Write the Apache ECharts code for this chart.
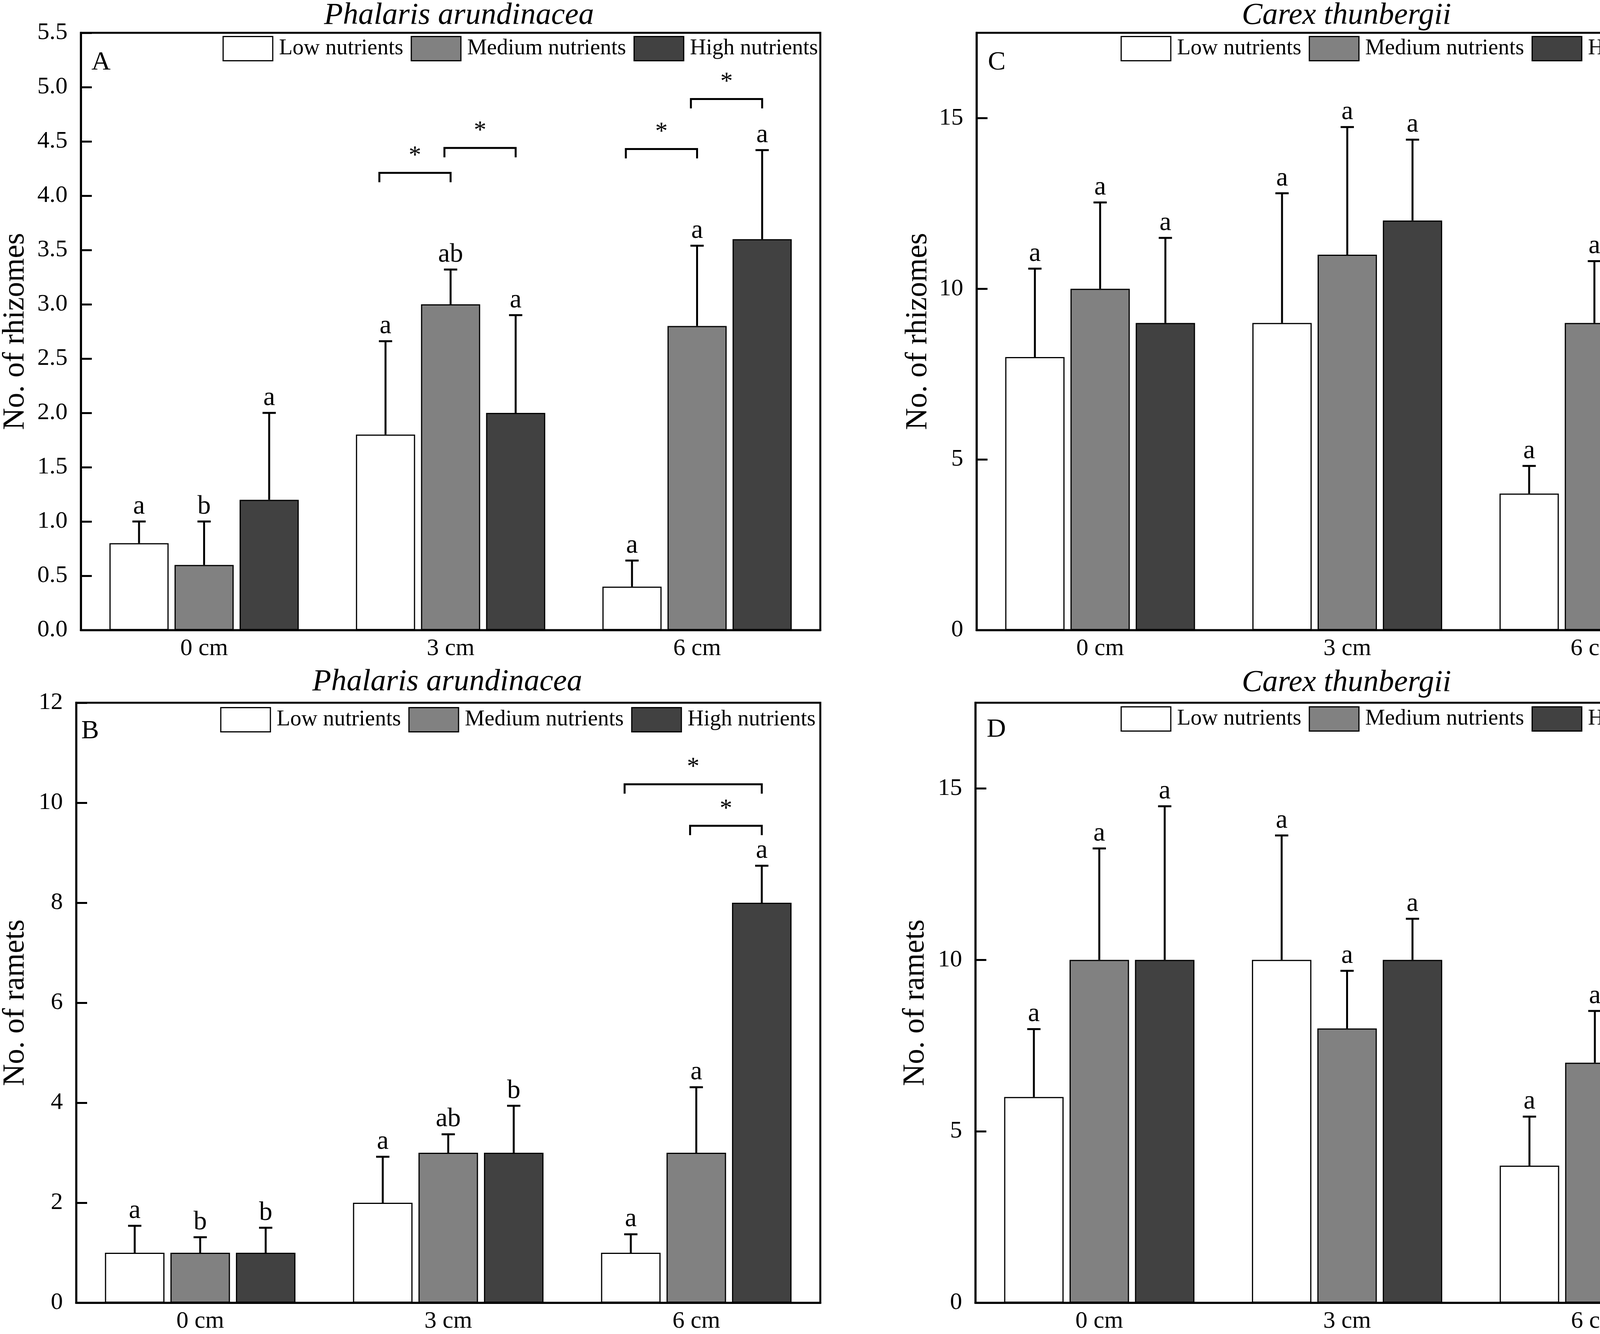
<!DOCTYPE html>
<html>
<head>
<meta charset="utf-8">
<script src="https://cdn.jsdelivr.net/npm/echarts@6/dist/echarts.min.js"></script>
<style>
  html, body { margin: 0; padding: 0; background: #fff; }
  #main { width: 4409px; height: 3415px; }
</style>
</head>
<body>
<div id="main"></div>
<script>
// category labels and groups
var depths = ['0 cm', '3 cm', '6 cm'];
var nutrients = ['Low nutrients', 'Medium nutrients', 'High nutrients'];

// rows: low / medium / high nutrients, columns: 0 / 3 / 6 cm
// A - Phalaris, rhizomes
var rhizPhalMean = [[0.8, 1.8, 0.4], [0.6, 3.0, 2.8], [1.2, 2.0, 3.6]];
var rhizPhalSE = [[0.2, 0.86, 0.24], [0.4, 0.32, 0.74], [0.8, 0.9, 0.82]];
var rhizPhalLetters = [['a', 'a', 'a'], ['b', 'ab', 'a'], ['a', 'a', 'a']];
// [depth, from nutrient, to nutrient, height]
var rhizPhalBrackets = [[1, 0, 1, 4.21], [1, 1, 2, 4.44], [2, 0, 1, 4.43], [2, 1, 2, 4.89]];

// B - Phalaris, ramets
var rametPhalMean = [[1, 2, 1], [1, 3, 3], [1, 3, 8]];
var rametPhalSE = [[0.54, 0.92, 0.37], [0.31, 0.37, 1.31], [0.5, 0.94, 0.74]];
var rametPhalLetters = [['a', 'a', 'a'], ['b', 'ab', 'a'], ['b', 'b', 'a']];
var rametPhalBrackets = [[2, 0, 2, 10.37], [2, 1, 2, 9.54]];

// C - Carex, rhizomes
var rhizCarexMean = [[8, 9, 4], [10, 11, 9], [9, 12, 11]];
var rhizCarexSE = [[2.59, 3.8, 0.81], [2.53, 3.74, 1.81], [2.49, 2.37, 3.45]];
var rhizCarexLetters = [['a', 'a', 'a'], ['a', 'a', 'a'], ['a', 'a', 'a']];

// D - Carex, ramets
var rametCarexMean = [[6, 10, 4], [10, 8, 7], [10, 10, 9]];
var rametCarexSE = [[1.98, 3.63, 1.43], [3.25, 1.68, 1.51], [4.48, 1.2, 2.17]];
var rametCarexLetters = [['a', 'a', 'a'], ['a', 'a', 'a'], ['a', 'a', 'a']];

var FONT = '"Liberation Serif", "Times New Roman", serif';
var fills = ['#ffffff', '#818181', '#414141'];
var SHIFT = 0.264; // bar centre spacing in band units

var panels = [
    { mean: rhizPhalMean, se: rhizPhalSE, letters: rhizPhalLetters, brackets: rhizPhalBrackets,
      grid: { left: 206, top: 84, width: 1894, height: 1529 }, max: 5.5, interval: 0.5, dec: 1,
      yName: 'No. of rhizomes', nameGap: 128, title: 'Phalaris arundinacea', titleX: 1175, titleY: 40,
      tag: 'A', tagX: 234, tagY: 160, legendRight: 4409 - 2094, legendTop: 92 },
    { mean: rametPhalMean, se: rametPhalSE, letters: rametPhalLetters, brackets: rametPhalBrackets,
      grid: { left: 194, top: 1799, width: 1906, height: 1536 }, max: 12, interval: 2, dec: 0,
      yName: 'No. of ramets', nameGap: 116, title: 'Phalaris arundinacea', titleX: 1145, titleY: 1746,
      tag: 'B', tagX: 208, tagY: 1872, legendRight: 4409 - 2088, legendTop: 1810 },
    { mean: rhizCarexMean, se: rhizCarexSE, letters: rhizCarexLetters, brackets: [],
      grid: { left: 2500, top: 84, width: 1898, height: 1529 }, max: 17.5, interval: 5, dec: 0,
      yName: 'No. of rhizomes', nameGap: 110, title: 'Carex thunbergii', titleX: 3447, titleY: 40,
      tag: 'C', tagX: 2529, tagY: 160, legendRight: 4409 - 4393, legendTop: 92 },
    { mean: rametCarexMean, se: rametCarexSE, letters: rametCarexLetters, brackets: [],
      grid: { left: 2497, top: 1799, width: 1903, height: 1536 }, max: 17.5, interval: 5, dec: 0,
      yName: 'No. of ramets', nameGap: 114, title: 'Carex thunbergii', titleX: 3447, titleY: 1748,
      tag: 'D', tagX: 2526, tagY: 1868, legendRight: 4409 - 4393, legendTop: 1808 }
];

var grids = [], xAxes = [], yAxes = [], series = [], legends = [], graphics = [];

function errRender(letters) {
    return function (params, api) {
        var d = api.value(0), n = api.value(1);
        var band = api.size([1, 0])[0];
        var top = api.coord([d, api.value(3)]);
        var base = api.coord([d, api.value(2)]);
        var x = top[0] + (n - 1) * band * SHIFT;
        return {
            type: 'group',
            children: [
                { type: 'line', shape: { x1: x, y1: base[1], x2: x, y2: top[1] }, style: { stroke: '#000', lineWidth: 5 } },
                { type: 'line', shape: { x1: x - 17, y1: top[1], x2: x + 17, y2: top[1] }, style: { stroke: '#000', lineWidth: 5 } },
                { type: 'text', x: x, y: top[1] - 4,
                  style: { text: letters[n][d], font: '68px ' + FONT, fill: '#000', align: 'center', verticalAlign: 'bottom' } }
            ]
        };
    };
}

function bracketRender(params, api) {
    var d = api.value(0), a = api.value(1), b = api.value(2);
    var band = api.size([1, 0])[0];
    var p = api.coord([d, api.value(3)]);
    var x1 = p[0] + (a - 1) * band * SHIFT - band * 0.025;
    var x2 = p[0] + (b - 1) * band * SHIFT;
    var y = p[1];
    return {
        type: 'group',
        children: [
            { type: 'polyline', shape: { points: [[x1, y + 24], [x1, y], [x2, y], [x2, y + 24]] },
              style: { stroke: '#000', lineWidth: 5, fill: null } },
            { type: 'text', x: (x1 + x2) / 2, y: y - 42,
              style: { text: '*', font: '64px ' + FONT, fill: '#000', align: 'center', verticalAlign: 'middle' } }
        ]
    };
}

panels.forEach(function (p, i) {
    grids.push({ left: p.grid.left, top: p.grid.top, width: p.grid.width, height: p.grid.height,
                 show: true, borderColor: '#000', borderWidth: 5 });
    xAxes.push({
        type: 'category', gridIndex: i, data: depths,
        axisLine: { lineStyle: { color: '#000', width: 5 } },
        axisTick: { show: false },
        axisLabel: { color: '#000', fontFamily: FONT, fontSize: 62, margin: 17 }
    });
    yAxes.push({
        type: 'value', gridIndex: i, min: 0, max: p.max, interval: p.interval,
        name: p.yName, nameLocation: 'middle', nameGap: p.nameGap,
        nameTextStyle: { color: '#000', fontFamily: FONT, fontSize: 78 },
        axisLine: { show: true, lineStyle: { color: '#000', width: 5 } },
        axisTick: { show: true, inside: true, length: 28, lineStyle: { color: '#000', width: 5 } },
        splitLine: { show: false },
        axisLabel: {
            color: '#000', fontFamily: FONT, fontSize: 62, margin: 34,
            showMaxLabel: p.max % p.interval === 0,
            formatter: (function (dec) { return function (v) { return v.toFixed(dec); }; })(p.dec)
        }
    });
    nutrients.forEach(function (name, n) {
        series.push({
            name: name, type: 'bar', xAxisIndex: i, yAxisIndex: i,
            data: p.mean[n], barWidth: '24%', barGap: '10%',
            itemStyle: { color: fills[n], borderColor: '#000', borderWidth: 3 },
            emphasis: { disabled: true }
        });
    });
    var errData = [];
    for (var n = 0; n < 3; n++) {
        for (var d = 0; d < 3; d++) {
            errData.push([d, n, p.mean[n][d], p.mean[n][d] + p.se[n][d]]);
        }
    }
    series.push({
        type: 'custom', xAxisIndex: i, yAxisIndex: i, data: errData, z: 5,
        renderItem: errRender(p.letters), silent: true
    });
    if (p.brackets.length) {
        series.push({
            type: 'custom', xAxisIndex: i, yAxisIndex: i, data: p.brackets, z: 5,
            renderItem: bracketRender, silent: true
        });
    }
    legends.push({
        data: nutrients, right: p.legendRight, top: p.legendTop, padding: 0,
        orient: 'horizontal', icon: 'rect', itemWidth: 127, itemHeight: 62, itemGap: 19,
        selectedMode: false,
        itemStyle: { borderColor: '#000', borderWidth: 3 },
        textStyle: { color: '#000', fontFamily: FONT, fontSize: 57, padding: [0, 0, 0, 11] }
    });
    graphics.push({
        type: 'text', x: p.titleX, y: p.titleY,
        style: { text: p.title, font: 'italic 79px ' + FONT, fill: '#000', align: 'center', verticalAlign: 'middle' }
    });
    graphics.push({
        type: 'text', x: p.tagX, y: p.tagY,
        style: { text: p.tag, font: '68px ' + FONT, fill: '#000', align: 'left', verticalAlign: 'middle' }
    });
});

var myChart = echarts.init(document.getElementById('main'), null, { renderer: 'canvas' });
myChart.setOption({
    animation: false,
    backgroundColor: '#fff',
    grid: grids,
    xAxis: xAxes,
    yAxis: yAxes,
    legend: legends,
    series: series,
    graphic: graphics
});
window.addEventListener('resize', function () {
    myChart.resize();
});
</script>
</body>
</html>
